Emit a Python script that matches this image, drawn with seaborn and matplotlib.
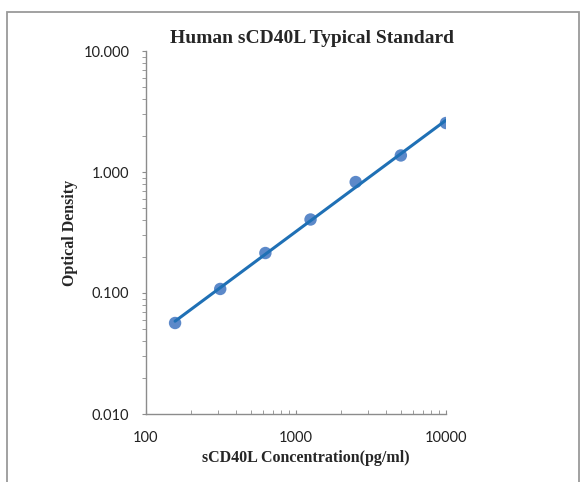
import numpy as np
import pandas as pd
import matplotlib
matplotlib.use("Agg")
import matplotlib.pyplot as plt
import matplotlib.ticker as mticker
from matplotlib.patches import Rectangle
import seaborn as sns

# %% standard curve data
concentration = [156.25, 312.5, 625, 1250, 2500, 5000, 10000]
optical_density = [0.0565, 0.108, 0.214, 0.405, 0.826, 1.37, 2.54]

df = pd.DataFrame({"conc": concentration, "od": optical_density})

# power trendline (straight line in log-log space)
slope, intercept = np.polyfit(np.log10(df["conc"]), np.log10(df["od"]), 1)
fitDF = pd.DataFrame({"conc": [concentration[0], concentration[-1]]})
fitDF["od"] = 10 ** (intercept + slope * np.log10(fitDF["conc"]))

# %% plot
sns.set_style("white")
fig = plt.figure(figsize=(5.85, 4.82), dpi=100)
fig.patches.append(Rectangle((7 / 585, -0.05), 572 / 585, 1.05 - 12 / 482,
                             transform=fig.transFigure, fill=False,
                             edgecolor="#9a9a9a", linewidth=1.3))
ax = fig.add_axes([146 / 585, 68 / 482, 300 / 585, 363 / 482])

sns.scatterplot(data=df, x="conc", y="od", ax=ax, s=80, color="#4a7cc4",
                alpha=0.9, edgecolor="none", zorder=2)
sns.lineplot(data=fitDF, x="conc", y="od", ax=ax, color="#1f70b5",
             linewidth=2.2, zorder=3)

ax.set_xscale("log")
ax.set_yscale("log")
ax.set_xlim(100, 10000)
ax.set_ylim(0.01, 10)

ax.yaxis.set_major_locator(mticker.FixedLocator([0.01, 0.1, 1, 10]))
ax.yaxis.set_major_formatter(mticker.FixedFormatter(["0.010", "0.100", "1.000", "10.000"]))
ax.xaxis.set_major_locator(mticker.FixedLocator([100, 1000, 10000]))
ax.xaxis.set_major_formatter(mticker.FixedFormatter(["100", "1000", "10000"]))
ax.yaxis.set_minor_locator(mticker.LogLocator(base=10, subs=np.arange(2, 10)))
ax.xaxis.set_minor_locator(mticker.LogLocator(base=10, subs=np.arange(2, 10)))
ax.yaxis.set_minor_formatter(mticker.NullFormatter())
ax.xaxis.set_minor_formatter(mticker.NullFormatter())

for side in ["top", "right"]:
    ax.spines[side].set_visible(False)
for side in ["left", "bottom"]:
    ax.spines[side].set_color("#8c8c8c")
    ax.spines[side].set_linewidth(1.0)

tickFont = "Lato"
ax.tick_params(axis="y", which="both", direction="out", left=True, color="#8c8c8c",
               length=3, labelsize=10.5, labelcolor="#222222", pad=9)
ax.tick_params(axis="x", which="both", direction="in", bottom=True, color="#8c8c8c",
               length=3, labelsize=10.5, labelcolor="#222222", pad=12)
for lbl in ax.get_xticklabels() + ax.get_yticklabels():
    lbl.set_fontfamily(tickFont)

serif = {"family": "Liberation Serif", "weight": "bold"}
ax.set_title("Human sCD40L Typical Standard", fontdict=serif, fontsize=14, pad=6,
             x=0.553)
ax.set_xlabel("sCD40L Concentration(pg/ml)", fontdict=serif, fontsize=11.5)
ax.set_ylabel("Optical Density", fontdict=serif, fontsize=11.5)
ax.xaxis.set_label_coords((306 - 146) / 300, -(450 - 414) / 363)
ax.yaxis.set_label_coords((78 - 146) / 300, 0.5)

fig.savefig("out.png", dpi=100)
